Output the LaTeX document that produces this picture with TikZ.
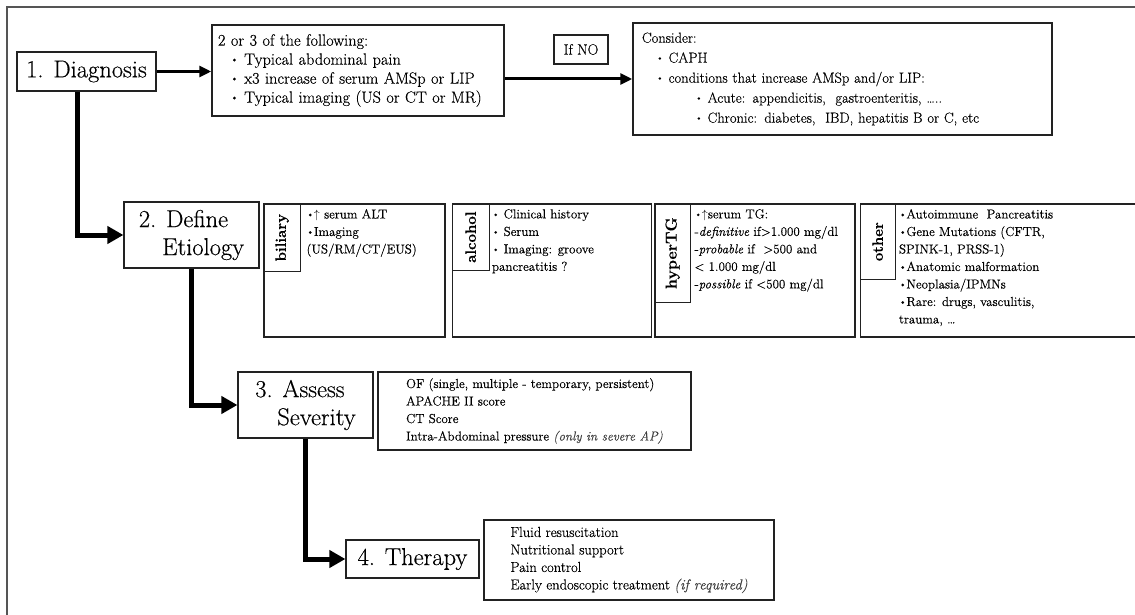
\documentclass[tikz,border=0pt]{standalone}
\usepackage{fontspec}
\setmainfont{Latin Modern Roman}[FakeBold=0.35]
\usepackage{tikz}
\usetikzlibrary{arrows.meta, positioning, calc}
\definecolor{colLine}{HTML}{222222}
\definecolor{colFrame}{HTML}{555555}
\definecolor{colNote}{HTML}{404040}
\newcommand{\bul}{\raisebox{0.2ex}{\scalebox{0.75}{\textbullet}}}
\newcommand{\fsz}[2]{\fontsize{#1}{#2}\selectfont}
\tikzset{
  stage/.style={
    draw=colLine, line width=1.2pt, align=left,
    inner sep=4pt, font=\fsz{24.5}{28}
  },
  infobox/.style={
    draw=colLine, line width=1.5pt, align=left,
    inner ysep=3pt
  },
  etibox/.style={
    draw=colLine, line width=1.5pt,
    minimum height=133pt, inner sep=0pt
  },
  % tabs are turned: width runs down the box, height across it
  tabbox/.style={
    draw=colLine, line width=1.3pt, inner sep=0pt,
    rotate=90, anchor=north east,
    font=\fsz{15}{15}\bfseries
  },
  etitext/.style={
    align=left, anchor=north west, inner sep=2pt,
    font=\fsz{13}{17.5}
  },
  thickarr/.style={
    -{Triangle[length=16pt,width=17pt]},
    line width=5pt, draw=black
  },
  thinarr/.style={
    -{Triangle[length=12pt,width=11pt]},
    line width=3pt, draw=black
  }
}

\begin{document}
\begin{tikzpicture}[x=1pt, y=-1pt]
  \path[use as bounding box] (0,0) rectangle (1135,615);
  \clip (0,0) rectangle (1135,615);
  % outer frame (only top and left visible)
  \draw[colFrame, line width=1.5pt] (7,640) -- (7,7) -- (1160,7);

  % 1. diagnosis
  \node[stage, minimum width=139pt, minimum height=39pt] (diag) at (86.5,71.5) {1. Diagnosis};
  \node[infobox, font=\fsz{16.3}{19}, text width=280pt, inner xsep=6pt, minimum height=91pt] (crit) at (358,70.5)
    {2 or 3 of the following:\\
     \hspace*{12pt}\bul\ Typical abdominal pain\\
     \hspace*{12pt}\bul\ x3 increase of serum AMSp or LIP\\
     \hspace*{12pt}\bul\ Typical imaging (US or CT or MR)};
  \node[draw=colLine, line width=1.2pt, font=\fsz{15}{16}, minimum width=54pt, minimum height=29pt, inner sep=2pt] (ifno) at (581,49.5) {If NO};
  \node[infobox, font=\fsz{14.5}{20}, text width=401pt, inner xsep=9pt, minimum height=112pt] (consider) at (842.5,79)
    {Consider:\\
     \hspace*{14pt}\bul\ CAPH\\
     \hspace*{14pt}\bul\ conditions that increase AMSp and/or LIP:\\
     \hspace*{53pt}\bul\ Acute: appendicitis,\ \ gastroenteritis, \ldots..\\
     \hspace*{53pt}\bul\ Chronic: diabetes,\ \ IBD,\ hepatitis B or C, etc};
  \draw[thinarr] (diag.east) -- (diag.east -| crit.west);
  \draw[thinarr] (consider.west -| crit.east) -- (consider.west);

  % 2. etiology
  \node[stage, minimum width=135pt, minimum height=66pt] (etio) at (191.5,235) {2. Define\\\hspace*{0.95em}Etiology};
  \node[etibox, minimum width=181pt, anchor=north west] (bil) at (263,203) {};
  \node[etibox, minimum width=199pt, right=6pt of bil] (alc) {};
  \node[etibox, minimum width=200pt, right=2pt of alc] (hyp) {};
  \node[etibox, minimum width=290pt, right=4pt of hyp] (oth) {};

  \node[tabbox, minimum width=68pt, minimum height=37pt] (biltab) at (bil.north west) {biliary};
  \node[tabbox, minimum width=67pt, minimum height=37pt] (alctab) at (alc.north west) {alcohol};
  \node[tabbox, minimum width=99pt, minimum height=36pt, font=\fsz{16}{16}\bfseries] (hyptab) at (hyp.north west) {hyperTG};
  \node[tabbox, minimum width=76pt, minimum height=35pt] (othtab) at (oth.north west) {other};

  \node[etitext] (biltxt) at ([xshift=3pt,yshift=-4pt]biltab.south east)
    {\bul$\uparrow$ serum ALT\\
     \bul Imaging\\
     (US/RM/CT/EUS)};
  \node[etitext] (alctxt) at ([xshift=0pt,yshift=-4pt]alctab.south east)
    {\bul\ Clinical history\\
     \bul\ Serum\\
     \bul\ Imaging: groove\\
     pancreatitis ?};
  \node[etitext] (hyptxt) at ([xshift=1pt,yshift=-4pt]hyptab.south east)
    {\bul$\uparrow$serum TG:\\
     -\textit{definitive} if>1.000 mg/dl\\
     -\textit{probable} if\ \ >500 and\\
     < 1.000 mg/dl\\
     -\textit{possible} if <500 mg/dl};
  \node[etitext] (othtxt) at ([xshift=1pt,yshift=-4pt]othtab.south east)
    {\bul Autoimmune\ \ Pancreatitis\\
     \bul Gene Mutations (CFTR,\\
     SPINK-1, PRSS-1)\\
     \bul Anatomic malformation\\
     \bul Neoplasia/IPMNs\\
     \bul Rare: drugs, vasculitis,\\
     trauma, \ldots};
  \draw[thickarr] ([xshift=-9pt]diag.south) |- (etio.west);

  % 3. severity
  \node[stage, minimum width=135pt, minimum height=66pt] (sev) at (305.5,405) {3. Assess\\\hspace*{0.9em}Severity};
  \node[infobox, font=\fsz{13}{17.5}, minimum width=313pt, minimum height=78pt] (sevinfo) at (534.5,411)
    {OF (single, multiple - temporary, persistent)\\
     APACHE II score\\
     CT Score\\
     Intra-Abdominal pressure {\color{colNote}\textit{(only in severe AP)}}};
  \draw[thickarr] (etio.south) |- (sev.west);

  % 4. therapy
  \node[stage, minimum width=133pt, minimum height=38pt] (ther) at (412.5,559) {4. Therapy};
  \node[infobox, font=\fsz{14.5}{17.5}, minimum width=290pt, minimum height=80pt] (therinfo) at (629,560)
    {Fluid resuscitation\\
     Nutritional support\\
     Pain control\\
     Early endoscopic treatment {\color{colNote}\textit{(if required)}}};
  \draw[thickarr] (sev.south) |- (ther.west);
\end{tikzpicture}
\end{document}
